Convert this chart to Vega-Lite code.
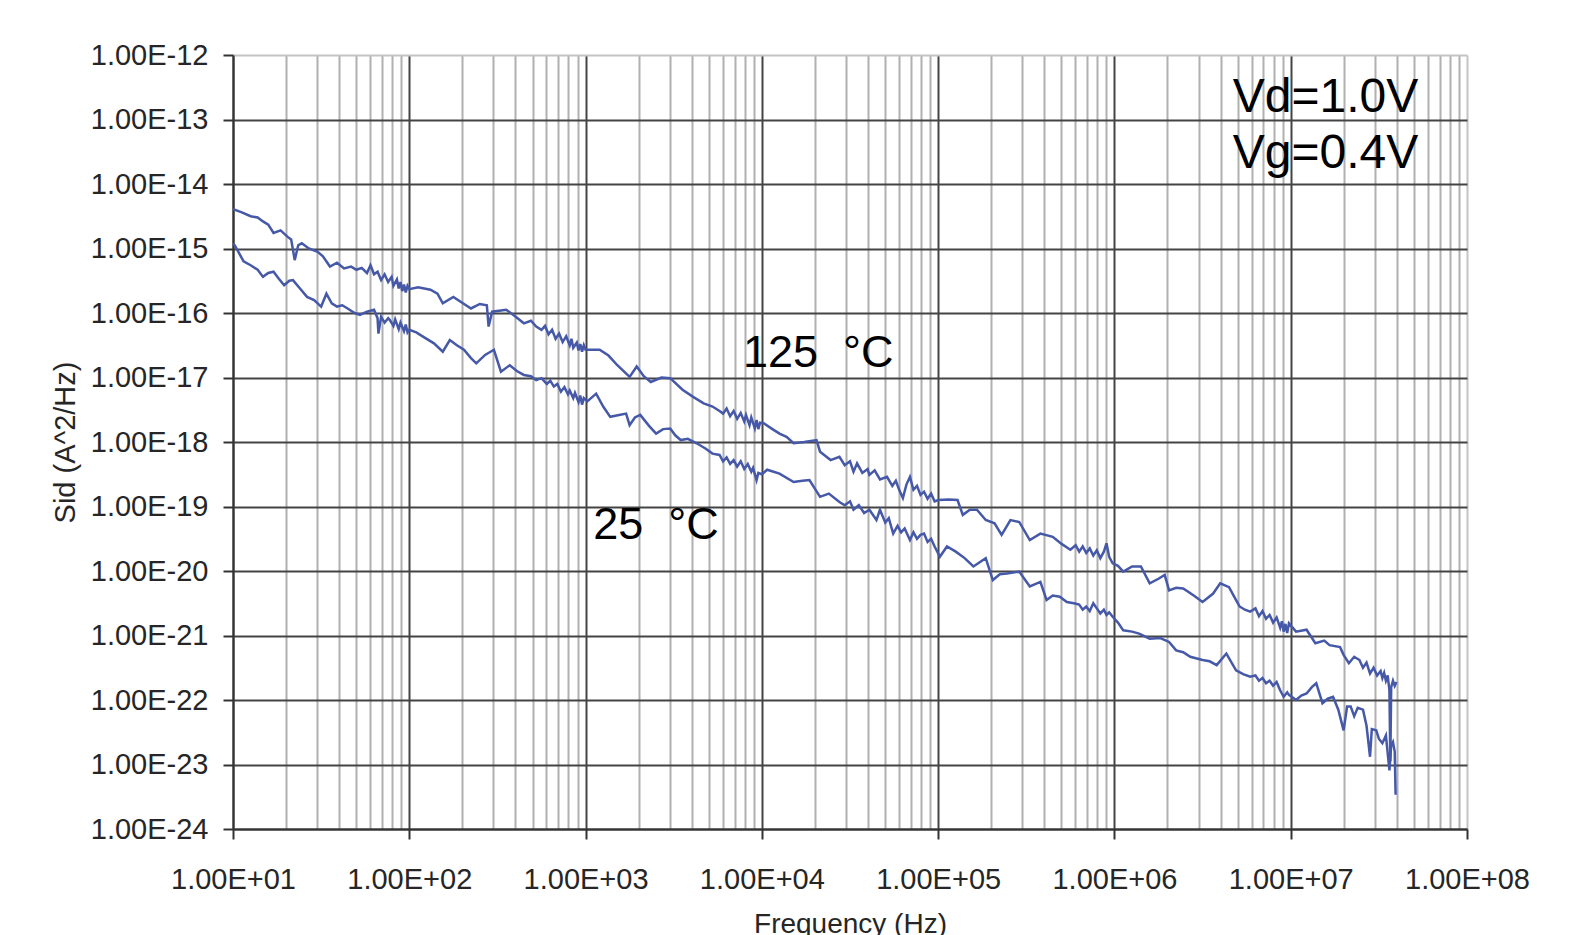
{
  "$schema": "https://vega.github.io/schema/vega-lite/v6.json",
  "autosize": {"type": "none"},
  "width": 1234,
  "height": 774,
  "padding": {"left": 233, "top": 55, "right": 112, "bottom": 106},
  "background": "white",
  "config": {
    "font": "Liberation Sans",
    "view": {"stroke": null},
    "axis": {"labelFont": "Liberation Sans", "titleFont": "Liberation Sans"}
  },
  "datasets": {
    "hot": [
      {"f":10,"s":4.074e-15},{"f":11.22,"s":3.631e-15},{"f":12.59,"s":3.162e-15},{"f":13.8,"s":3.02e-15},{"f":14.79,"s":2.63e-15},{"f":15.85,"s":2.344e-15},{"f":16.98,"s":1.738e-15},{"f":18.62,"s":1.905e-15},{"f":20.42,"s":1.514e-15},{"f":21.38,"s":1.38e-15},{"f":22.39,"s":6.607e-16},{"f":23.44,"s":1.122e-15},{"f":24.55,"s":1.202e-15},{"f":26.92,"s":1e-15},{"f":30.2,"s":8.913e-16},{"f":32.36,"s":7.586e-16},{"f":35.48,"s":5.248e-16},{"f":38.9,"s":6.026e-16},{"f":42.66,"s":4.898e-16},{"f":46.77,"s":5.248e-16},{"f":50.12,"s":4.677e-16},{"f":53.7,"s":5.012e-16},{"f":57.54,"s":4.169e-16},{"f":60.26,"s":5.495e-16},{"f":63.1,"s":3.981e-16},{"f":66.07,"s":4.365e-16},{"f":69.18,"s":3.236e-16},{"f":72.44,"s":3.981e-16},{"f":75.86,"s":3.02e-16},{"f":79.43,"s":3.631e-16},{"f":81.28,"s":2.63e-16},{"f":85.11,"s":3.311e-16},{"f":87.1,"s":2.399e-16},{"f":89.13,"s":3.02e-16},{"f":91.2,"s":2.188e-16},{"f":93.33,"s":2.754e-16},{"f":95.5,"s":2.089e-16},{"f":97.72,"s":2.63e-16},
      {"f":100,"s":2.344e-16},{"f":112.2,"s":2.512e-16},{"f":131.8,"s":2.291e-16},{"f":144.5,"s":1.995e-16},{"f":154.9,"s":1.413e-16},{"f":177.8,"s":1.778e-16},{"f":199.5,"s":1.445e-16},{"f":223.9,"s":1.175e-16},{"f":251.2,"s":1.38e-16},{"f":275.4,"s":1.318e-16},{"f":281.8,"s":6.166e-17},{"f":295.1,"s":1.047e-16},{"f":354.8,"s":1.122e-16},{"f":398.1,"s":8.913e-17},{"f":446.7,"s":6.918e-17},{"f":489.8,"s":7.586e-17},{"f":524.8,"s":6.166e-17},{"f":562.3,"s":5.495e-17},{"f":588.8,"s":6.31e-17},{"f":616.6,"s":4.677e-17},{"f":645.7,"s":5.495e-17},{"f":676.1,"s":3.981e-17},{"f":707.9,"s":4.786e-17},{"f":741.3,"s":3.548e-17},{"f":776.2,"s":4.365e-17},{"f":812.8,"s":3.162e-17},{"f":831.8,"s":3.981e-17},{"f":851.1,"s":2.884e-17},{"f":891.3,"s":3.467e-17},{"f":912,"s":2.63e-17},{"f":933.3,"s":3.311e-17},{"f":955,"s":2.512e-17},{"f":977.2,"s":3.162e-17},
      {"f":1000,"s":2.692e-17},{"f":1202,"s":2.692e-17},{"f":1349,"s":2.188e-17},{"f":1514,"s":1.549e-17},{"f":1778,"s":1.023e-17},{"f":1950,"s":1.479e-17},{"f":2138,"s":1.047e-17},{"f":2344,"s":8.511e-18},{"f":2692,"s":1e-17},{"f":3020,"s":9.772e-18},{"f":3548,"s":6.457e-18},{"f":4074,"s":5.012e-18},{"f":4677,"s":3.981e-18},{"f":5248,"s":3.548e-18},{"f":5754,"s":3.02e-18},{"f":6026,"s":2.754e-18},{"f":6310,"s":3.311e-18},{"f":6607,"s":2.512e-18},{"f":6918,"s":3.02e-18},{"f":7244,"s":2.291e-18},{"f":7586,"s":2.818e-18},{"f":7943,"s":2.089e-18},{"f":8128,"s":2.63e-18},{"f":8511,"s":1.82e-18},{"f":8710,"s":2.399e-18},{"f":9120,"s":1.622e-18},{"f":9333,"s":2.188e-18},{"f":9550,"s":1.585e-18},{"f":9772,"s":1.995e-18},
      {"f":10230,"s":1.95e-18},{"f":11480,"s":1.585e-18},{"f":12590,"s":1.349e-18},{"f":13800,"s":1.202e-18},{"f":15140,"s":9.55e-19},{"f":17380,"s":1e-18},{"f":20420,"s":1.072e-18},{"f":21380,"s":7.079e-19},{"f":24550,"s":5.248e-19},{"f":27540,"s":5.888e-19},{"f":29510,"s":4.365e-19},{"f":31620,"s":5.012e-19},{"f":33110,"s":3.467e-19},{"f":34670,"s":4.677e-19},{"f":37150,"s":3.311e-19},{"f":39810,"s":3.802e-19},{"f":40740,"s":3.09e-19},{"f":43650,"s":3.631e-19},{"f":46770,"s":2.63e-19},{"f":51290,"s":2.884e-19},{"f":54950,"s":2.089e-19},{"f":57540,"s":2.512e-19},{"f":60260,"s":1.778e-19},{"f":63100,"s":1.349e-19},{"f":66070,"s":2.188e-19},{"f":69180,"s":2.884e-19},{"f":72440,"s":1.82e-19},{"f":75860,"s":2.089e-19},{"f":79430,"s":1.514e-19},{"f":83180,"s":1.698e-19},{"f":87100,"s":1.318e-19},{"f":91200,"s":1.585e-19},{"f":95500,"s":1.202e-19},
      {"f":100000,"s":1.259e-19},{"f":114800,"s":1.288e-19},{"f":128800,"s":1.259e-19},{"f":138000,"s":7.413e-20},{"f":151400,"s":8.913e-20},{"f":166000,"s":8.913e-20},{"f":186200,"s":6.166e-20},{"f":208900,"s":5.495e-20},{"f":229100,"s":3.631e-20},{"f":257000,"s":6.166e-20},{"f":288400,"s":5.754e-20},{"f":331100,"s":3.02e-20},{"f":380200,"s":3.802e-20},{"f":446700,"s":3.388e-20},{"f":501200,"s":2.63e-20},{"f":562300,"s":2.138e-20},{"f":602600,"s":2.512e-20},{"f":631000,"s":1.995e-20},{"f":660700,"s":2.399e-20},{"f":691800,"s":1.905e-20},{"f":724400,"s":2.239e-20},{"f":758600,"s":1.738e-20},{"f":794300,"s":2.089e-20},{"f":831800,"s":1.585e-20},{"f":871000,"s":1.995e-20},{"f":901600,"s":2.692e-20},{"f":933300,"s":1.66e-20},{"f":977200,"s":1.318e-20},
      {"f":1047000,"s":1.202e-20},{"f":1122000,"s":9.772e-21},{"f":1259000,"s":1.175e-20},{"f":1413000,"s":1.175e-20},{"f":1585000,"s":6.457e-21},{"f":1778000,"s":7.586e-21},{"f":1928000,"s":8.71e-21},{"f":2042000,"s":5.012e-21},{"f":2239000,"s":5.495e-21},{"f":2455000,"s":5.37e-21},{"f":2818000,"s":4.169e-21},{"f":3162000,"s":3.311e-21},{"f":3631000,"s":4.467e-21},{"f":3981000,"s":6.457e-21},{"f":4467000,"s":5.623e-21},{"f":4898000,"s":3.548e-21},{"f":5129000,"s":2.818e-21},{"f":5495000,"s":2.512e-21},{"f":5888000,"s":2.344e-21},{"f":6310000,"s":2.63e-21},{"f":6607000,"s":1.995e-21},{"f":6918000,"s":2.399e-21},{"f":7244000,"s":1.82e-21},{"f":7586000,"s":2.089e-21},{"f":7943000,"s":1.585e-21},{"f":8318000,"s":1.905e-21},{"f":8710000,"s":1.318e-21},{"f":8913000,"s":1.66e-21},{"f":9120000,"s":1.148e-21},{"f":9333000,"s":1.514e-21},{"f":9550000,"s":1.096e-21},{"f":9772000,"s":1.549e-21},
      {"f":10720000,"s":1.148e-21},{"f":12300000,"s":1.23e-21},{"f":13800000,"s":7.586e-22},{"f":15490000,"s":8.318e-22},{"f":16600000,"s":7.079e-22},{"f":19050000,"s":6.607e-22},{"f":19950000,"s":5.012e-22},{"f":21380000,"s":3.715e-22},{"f":22910000,"s":4.677e-22},{"f":24550000,"s":4.169e-22},{"f":25700000,"s":3.162e-22},{"f":26920000,"s":3.802e-22},{"f":28180000,"s":2.57e-22},{"f":29510000,"s":3.162e-22},{"f":30900000,"s":2.399e-22},{"f":32360000,"s":2.818e-22},{"f":33110000,"s":2.188e-22},{"f":33880000,"s":2.63e-22},{"f":34670000,"s":1.995e-22},{"f":35480000,"s":2.399e-22},{"f":36310000,"s":1.413e-22},{"f":36730000,"s":1.122e-23},{"f":37150000,"s":1.585e-22},{"f":38020000,"s":1.995e-22},{"f":38900000,"s":1.66e-22},{"f":39810000,"s":1.905e-22}
    ],
    "room": [
      {"f":10,"s":1.175e-15},{"f":10.23,"s":1.122e-15},{"f":10.96,"s":7.943e-16},{"f":11.48,"s":6.31e-16},{"f":12.59,"s":5.495e-16},{"f":13.8,"s":4.677e-16},{"f":14.79,"s":3.631e-16},{"f":15.85,"s":4.169e-16},{"f":16.98,"s":4.365e-16},{"f":18.2,"s":3.388e-16},{"f":19.5,"s":2.692e-16},{"f":20.89,"s":3.162e-16},{"f":21.88,"s":3.236e-16},{"f":23.99,"s":2.399e-16},{"f":26.3,"s":1.778e-16},{"f":28.84,"s":1.585e-16},{"f":31.62,"s":1.259e-16},{"f":33.88,"s":1.995e-16},{"f":36.31,"s":1.413e-16},{"f":38.9,"s":1.259e-16},{"f":41.69,"s":1.318e-16},{"f":44.67,"s":1.175e-16},{"f":48.98,"s":1e-16},{"f":52.48,"s":9.333e-17},{"f":57.54,"s":1.047e-16},{"f":63.1,"s":1.122e-16},{"f":66.07,"s":8.318e-17},{"f":66.83,"s":4.786e-17},{"f":69.18,"s":8.71e-17},{"f":72.44,"s":7.079e-17},{"f":75.86,"s":8.318e-17},{"f":77.62,"s":7.762e-17},{"f":81.28,"s":6.31e-17},{"f":83.18,"s":7.943e-17},{"f":87.1,"s":5.623e-17},{"f":89.13,"s":7.079e-17},{"f":93.33,"s":5.248e-17},{"f":95.5,"s":6.607e-17},{"f":97.72,"s":5.012e-17},
      {"f":100,"s":5.495e-17},{"f":109.6,"s":5.012e-17},{"f":120.2,"s":4.266e-17},{"f":138,"s":3.388e-17},{"f":154.9,"s":2.512e-17},{"f":169.8,"s":3.802e-17},{"f":186.2,"s":3.162e-17},{"f":204.2,"s":2.692e-17},{"f":223.9,"s":1.995e-17},{"f":239.9,"s":1.66e-17},{"f":269.2,"s":2.239e-17},{"f":302,"s":2.692e-17},{"f":331.1,"s":1.23e-17},{"f":371.5,"s":1.549e-17},{"f":407.4,"s":1.259e-17},{"f":446.7,"s":1.096e-17},{"f":489.8,"s":1.047e-17},{"f":524.8,"s":9.12e-18},{"f":562.3,"s":9.772e-18},{"f":602.6,"s":7.943e-18},{"f":631,"s":8.913e-18},{"f":660.7,"s":7.244e-18},{"f":691.8,"s":7.943e-18},{"f":724.4,"s":6.026e-18},{"f":758.6,"s":7.079e-18},{"f":794.3,"s":5.495e-18},{"f":812.8,"s":6.31e-18},{"f":851.1,"s":4.786e-18},{"f":871,"s":5.754e-18},{"f":912,"s":4.169e-18},{"f":933.3,"s":5.248e-18},{"f":955,"s":3.802e-18},{"f":977.2,"s":4.786e-18},
      {"f":1023,"s":4.266e-18},{"f":1148,"s":5.623e-18},{"f":1259,"s":3.548e-18},{"f":1380,"s":2.455e-18},{"f":1549,"s":2.63e-18},{"f":1698,"s":2.754e-18},{"f":1778,"s":1.82e-18},{"f":1905,"s":2.399e-18},{"f":2042,"s":2.63e-18},{"f":2291,"s":1.778e-18},{"f":2512,"s":1.349e-18},{"f":2754,"s":1.585e-18},{"f":3020,"s":1.622e-18},{"f":3236,"s":1.259e-18},{"f":3467,"s":1.072e-18},{"f":3802,"s":1.122e-18},{"f":4266,"s":9.55e-19},{"f":4786,"s":7.943e-19},{"f":5248,"s":6.607e-19},{"f":5754,"s":6.31e-19},{"f":6026,"s":5.012e-19},{"f":6310,"s":5.754e-19},{"f":6607,"s":4.571e-19},{"f":6918,"s":5.248e-19},{"f":7244,"s":4.169e-19},{"f":7586,"s":5.012e-19},{"f":7943,"s":3.802e-19},{"f":8318,"s":4.571e-19},{"f":8710,"s":3.467e-19},{"f":8913,"s":3.981e-19},{"f":9333,"s":2.57e-19},{"f":9550,"s":3.311e-19},
      {"f":10000,"s":3.162e-19},{"f":10720,"s":3.715e-19},{"f":12590,"s":3.236e-19},{"f":15140,"s":2.399e-19},{"f":16980,"s":2.512e-19},{"f":18620,"s":2.57e-19},{"f":21380,"s":1.413e-19},{"f":23990,"s":1.585e-19},{"f":27540,"s":1.175e-19},{"f":29510,"s":1.047e-19},{"f":31620,"s":1.202e-19},{"f":33110,"s":8.913e-20},{"f":35480,"s":1.047e-19},{"f":38020,"s":7.943e-20},{"f":40740,"s":8.913e-20},{"f":44670,"s":6.166e-20},{"f":46770,"s":8.913e-20},{"f":50120,"s":5.623e-20},{"f":52480,"s":6.607e-20},{"f":55590,"s":3.802e-20},{"f":58880,"s":5.012e-20},{"f":61660,"s":3.981e-20},{"f":64570,"s":4.571e-20},{"f":69180,"s":3.02e-20},{"f":72440,"s":3.981e-20},{"f":75860,"s":3.162e-20},{"f":79430,"s":3.631e-20},{"f":83180,"s":3.802e-20},{"f":87100,"s":2.818e-20},{"f":91200,"s":3.162e-20},{"f":95500,"s":2.399e-20},
      {"f":102300,"s":1.66e-20},{"f":112200,"s":2.399e-20},{"f":125900,"s":1.995e-20},{"f":141300,"s":1.585e-20},{"f":158500,"s":1.175e-20},{"f":186200,"s":1.585e-20},{"f":204200,"s":7.244e-21},{"f":223900,"s":8.913e-21},{"f":245500,"s":9.12e-21},{"f":288400,"s":9.772e-21},{"f":331100,"s":5.754e-21},{"f":380200,"s":6.761e-21},{"f":412100,"s":3.548e-21},{"f":446700,"s":4.169e-21},{"f":489800,"s":3.981e-21},{"f":537000,"s":3.311e-21},{"f":588800,"s":3.162e-21},{"f":631000,"s":3.02e-21},{"f":660700,"s":2.512e-21},{"f":691800,"s":2.818e-21},{"f":724400,"s":2.399e-21},{"f":758600,"s":3.162e-21},{"f":794300,"s":2.63e-21},{"f":831800,"s":2.188e-21},{"f":871000,"s":2.512e-21},{"f":901600,"s":2.089e-21},{"f":933300,"s":2.291e-21},{"f":977200,"s":1.95e-21},
      {"f":1047000,"s":1.585e-21},{"f":1122000,"s":1.202e-21},{"f":1259000,"s":1.148e-21},{"f":1380000,"s":1.072e-21},{"f":1585000,"s":8.913e-22},{"f":1820000,"s":9.12e-22},{"f":2042000,"s":7.943e-22},{"f":2239000,"s":5.888e-22},{"f":2455000,"s":5.495e-22},{"f":2692000,"s":4.677e-22},{"f":3162000,"s":4.169e-22},{"f":3467000,"s":3.981e-22},{"f":3802000,"s":3.467e-22},{"f":4315000,"s":5.248e-22},{"f":4898000,"s":2.884e-22},{"f":5370000,"s":2.512e-22},{"f":5888000,"s":2.291e-22},{"f":6310000,"s":2.399e-22},{"f":6607000,"s":1.995e-22},{"f":6918000,"s":2.188e-22},{"f":7244000,"s":1.82e-22},{"f":7586000,"s":1.995e-22},{"f":7943000,"s":1.66e-22},{"f":8318000,"s":1.905e-22},{"f":8710000,"s":1.413e-22},{"f":9120000,"s":1.122e-22},{"f":9550000,"s":1.318e-22},{"f":9772000,"s":1.202e-22},
      {"f":10720000,"s":1e-22},{"f":11480000,"s":1.175e-22},{"f":12300000,"s":1.259e-22},{"f":13180000,"s":1.585e-22},{"f":13960000,"s":1.82e-22},{"f":15140000,"s":8.913e-23},{"f":16220000,"s":1.047e-22},{"f":17380000,"s":1.122e-22},{"f":18620000,"s":7.079e-23},{"f":19950000,"s":3.388e-23},{"f":20890000,"s":7.943e-23},{"f":21880000,"s":7.943e-23},{"f":22910000,"s":5.623e-23},{"f":23990000,"s":7.586e-23},{"f":25700000,"s":7.079e-23},{"f":26920000,"s":3.981e-23},{"f":28180000,"s":1.318e-23},{"f":28840000,"s":3.548e-23},{"f":30550000,"s":3.388e-23},{"f":31620000,"s":2.512e-23},{"f":33110000,"s":2.138e-23},{"f":34670000,"s":2.818e-23},{"f":36310000,"s":8.128e-24},{"f":37150000,"s":1.995e-23},{"f":38020000,"s":2.239e-23},{"f":38900000,"s":1.585e-23},{"f":39360000,"s":3.388e-24}
    ],
    "bias": [
      {"f":4690000,"s":1.306e-13,"label":"Vd=1.0V"},
      {"f":4690000,"s":1.77e-14,"label":"Vg=0.4V"}
    ],
    "temps": [
      {"f":7816,"s":1.455e-17,"label":"125\u00a0\u00a0°C"},
      {"f":1104,"s":3.13e-20,"label":"25\u00a0\u00a0°C"}
    ]
  },
  "encoding": {
    "y": {
      "field": "s",
      "type": "quantitative",
      "scale": {"type": "log", "domain": [1e-24, 1e-12], "nice": false},
      "axis": {
        "title": "Sid (A^2/Hz)",
        "values": [1e-12, 1e-13, 1e-14, 1e-15, 1e-16, 1e-17, 1e-18, 1e-19, 1e-20, 1e-21, 1e-22, 1e-23, 1e-24],
        "labelExpr": "'1.00E-' + format(-round(log(datum.value)/LN10), '02d')",
        "labelFontSize": 29,
        "labelColor": "#262626",
        "labelPadding": 15,
        "labelBaseline": "middle",
        "tickSize": 10,
        "tickWidth": 2,
        "tickColor": "#333333",
        "domainColor": "#333333",
        "domainWidth": 2,
        "grid": true,
        "gridColor": {"condition": {"test": "datum.value > 5e-13", "value": "#c4c4c4"}, "value": "#444444"},
        "gridWidth": 2,
        "titleFontSize": 29,
        "titleFontWeight": "normal",
        "titleColor": "#262626",
        "titlePadding": 10
      }
    }
  },
  "layer": [
    {
      "data": {"name": "hot"},
      "mark": {"type": "line", "color": "#4658a8", "strokeWidth": 2.5},
      "encoding": {
        "x": {
          "field": "f",
          "type": "quantitative",
          "scale": {"type": "log", "domain": [10, 100000000], "nice": false},
          "axis": {
            "orient": "top",
            "values": [20,30,40,50,60,70,80,90,200,300,400,500,600,700,800,900,2000,3000,4000,5000,6000,7000,8000,9000,20000,30000,40000,50000,60000,70000,80000,90000,200000,300000,400000,500000,600000,700000,800000,900000,2000000,3000000,4000000,5000000,6000000,7000000,8000000,9000000,20000000,30000000,40000000,50000000,60000000,70000000,80000000,90000000],
            "labels": false,
            "ticks": false,
            "domain": false,
            "title": null,
            "grid": true,
            "gridColor": "#b0b0b0",
            "gridWidth": 2
          }
        }
      }
    },
    {
      "data": {"name": "room"},
      "mark": {"type": "line", "color": "#4658a8", "strokeWidth": 2.5},
      "encoding": {
        "x": {
          "field": "f",
          "type": "quantitative",
          "scale": {"type": "log", "domain": [10, 100000000], "nice": false},
          "axis": {
            "orient": "bottom",
            "title": "Frequency (Hz)",
            "values": [10, 100, 1000, 10000, 100000, 1000000, 10000000, 100000000],
            "labelExpr": "'1.00E+' + format(round(log(datum.value)/LN10), '02d')",
            "labelFontSize": 29,
            "labelColor": "#262626",
            "labelPadding": 26,
            "labelFlush": false,
            "labelOverlap": false,
            "tickSize": 10,
            "tickWidth": 2,
            "tickColor": "#333333",
            "domainColor": "#333333",
            "domainWidth": 2,
            "grid": true,
            "gridColor": {"condition": {"test": "datum.value > 50000000", "value": "#c4c4c4"}, "value": "#444444"},
            "gridWidth": 2,
            "titleFontSize": 28,
            "titleFontWeight": "normal",
            "titleColor": "#262626",
            "titlePadding": 16
          }
        }
      }
    },
    {
      "data": {"name": "bias"},
      "mark": {"type": "text", "font": "Liberation Sans", "fontSize": 48, "align": "left", "baseline": "alphabetic", "color": "black"},
      "encoding": {
        "x": {"field": "f", "type": "quantitative", "axis": null},
        "text": {"field": "label"}
      }
    },
    {
      "data": {"name": "temps"},
      "mark": {"type": "text", "font": "Liberation Sans", "fontSize": 45, "align": "left", "baseline": "alphabetic", "color": "black"},
      "encoding": {
        "x": {"field": "f", "type": "quantitative", "axis": null},
        "text": {"field": "label"}
      }
    }
  ],
  "resolve": {"axis": {"x": "independent"}}
}
